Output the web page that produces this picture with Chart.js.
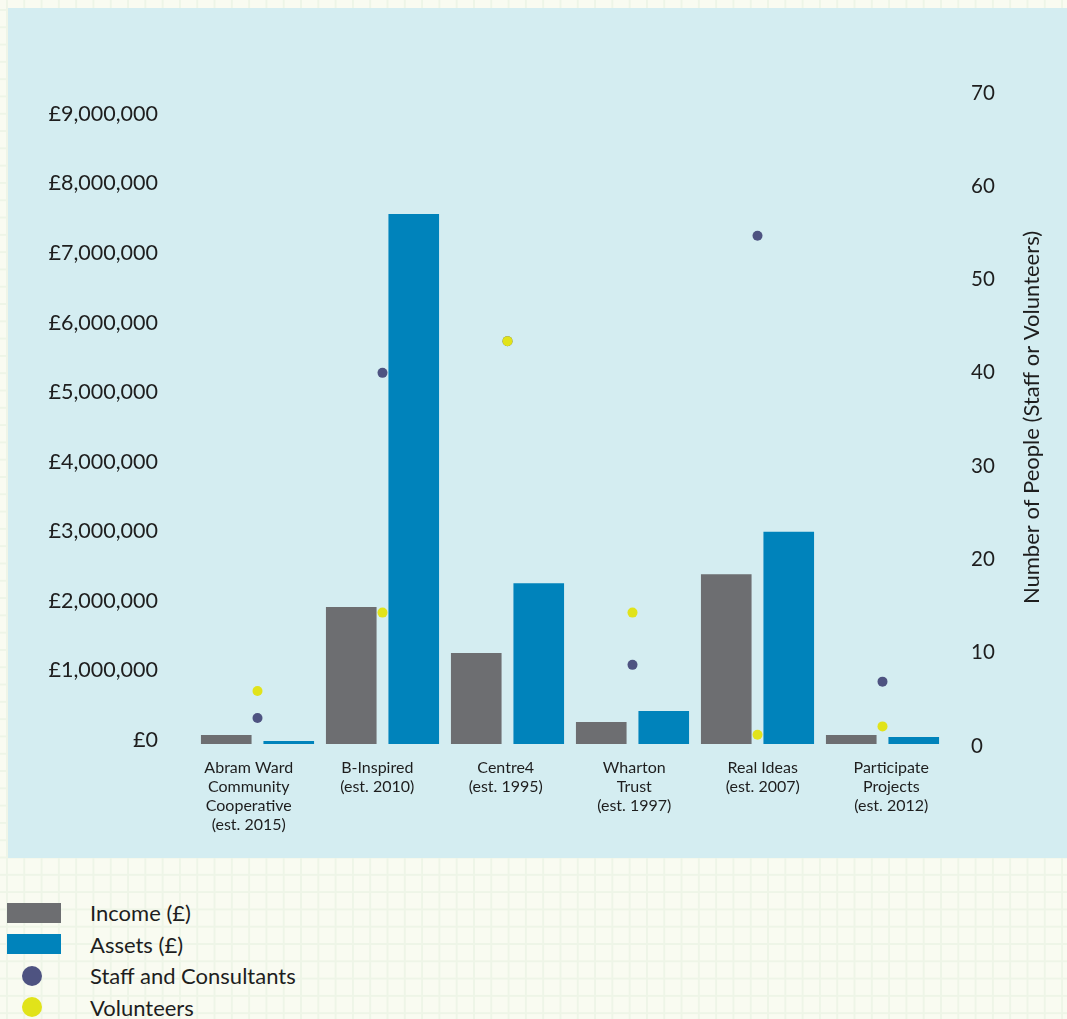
<!DOCTYPE html>
<html>
<head>
<meta charset="utf-8">
<script src="https://cdn.jsdelivr.net/npm/chart.js@4.4.1/dist/chart.umd.min.js"></script>
<style>
  html, body { margin: 0; padding: 0; }
  body {
    width: 1067px; height: 1019px; overflow: hidden; position: relative;
    background-color: #f9fbf1;
    background-image:
      linear-gradient(to right, #eef5e7 2px, transparent 2px),
      linear-gradient(to bottom, #eef5e7 2px, transparent 2px);
    background-size: 17.3px 17.3px;
    background-position: 6px 9px;
    font-family: 'Lato', sans-serif;
  }
  #chart { position: absolute; left: 8px; top: 8px; background: #d4edf1; }
  #legend { position: absolute; left: 0; top: 897px; }
  .row { position: relative; height: 31.5px; width: 400px; }
  .mk { position: absolute; }
  .lbl { position: absolute; left: 90px; top: 0; line-height: 31.5px; font-size: 22px; color: #1e1e1e; white-space: nowrap; }
</style>
</head>
<body>
<canvas id="chart" width="1059" height="850"></canvas>
<div id="legend"></div>
<script>
const CATEGORIES = [
  ['Abram Ward', 'Community', 'Cooperative', '(est. 2015)'],
  ['B-Inspired', '(est. 2010)'],
  ['Centre4', '(est. 1995)'],
  ['Wharton', 'Trust', '(est. 1997)'],
  ['Real Ideas', '(est. 2007)'],
  ['Participate', 'Projects', '(est. 2012)']
];
const INCOME = [130000, 1970000, 1310000, 316000, 2440000, 129000];
const ASSETS = [43000, 7620000, 2310000, 474000, 3050000, 100000];
const STAFF = [3, 40, 43.4, 8.7, 54.7, 6.9];
const VOLUNTEERS = [5.9, 14.3, 43.4, 14.3, 1.2, 2.1];
const MONEY_TICKS = [0, 1000000, 2000000, 3000000, 4000000, 5000000, 6000000, 7000000, 8000000, 9000000];
const PEOPLE_TICKS = [0, 10, 20, 30, 40, 50, 60, 70];
const SERIES_NAMES = ['Income (£)', 'Assets (£)', 'Staff and Consultants', 'Volunteers'];
const RIGHT_TITLE = 'Number of People (Staff or Volunteers)';

const TEXT = '#1e1e1e';
Chart.defaults.font.family = 'Lato';
Chart.defaults.color = TEXT;

// category labels are spread slightly wider than the category slots
const LABEL_SPREAD = 3.5;
const X_FONT = '16px Lato';
const X_LINE = 19;
const X_PAD = 12.5;

const decorPlugin = {
  id: 'decor',
  afterDraw(chart) {
    const { ctx, chartArea } = chart;
    const xs = chart.scales.x;
    ctx.save();
    ctx.fillStyle = TEXT;
    ctx.textAlign = 'center';
    ctx.textBaseline = 'middle';
    ctx.font = X_FONT;
    const n = xs.ticks.length;
    xs.ticks.forEach((t, i) => {
      const lines = [].concat(chart.data.labels[i]);
      const x = xs.getPixelForTick(i) + (i - (n - 1) / 2) * LABEL_SPREAD;
      lines.forEach((ln, k) => {
        ctx.fillText(ln, x, xs.top + X_PAD + X_LINE / 2 + k * X_LINE);
      });
    });
    ctx.font = '22px Lato';
    ctx.translate(1024, (chartArea.top + chartArea.bottom) / 2 - 2);
    ctx.rotate(-Math.PI / 2);
    ctx.fillText(RIGHT_TITLE, 0, 0);
    ctx.restore();
  }
};

const chart = new Chart(document.getElementById('chart'), {
  type: 'bar',
  data: {
    labels: CATEGORIES,
    datasets: [
      { label: SERIES_NAMES[0], data: INCOME, backgroundColor: '#6d6e71', yAxisID: 'y',
        categoryPercentage: 1.0, barPercentage: 0.81, order: 3 },
      { label: SERIES_NAMES[1], data: ASSETS, backgroundColor: '#0083bb', yAxisID: 'y',
        categoryPercentage: 1.0, barPercentage: 0.81, order: 3 },
      { type: 'line', label: SERIES_NAMES[2], data: STAFF, yAxisID: 'y1', showLine: false,
        pointRadius: 5, pointBorderWidth: 0, pointBackgroundColor: '#4e5381',
        backgroundColor: '#4e5381', borderColor: '#4e5381', order: 2 },
      { type: 'line', label: SERIES_NAMES[3], data: VOLUNTEERS, yAxisID: 'y1', showLine: false,
        pointRadius: 5, pointBorderWidth: 0, pointBackgroundColor: '#e1e31a',
        backgroundColor: '#e1e31a', borderColor: '#e1e31a', order: 1 }
    ]
  },
  options: {
    responsive: false,
    devicePixelRatio: 1,
    animation: false,
    events: [],
    layout: { padding: { top: 85, left: 0, right: 0, bottom: 0 } },
    plugins: { legend: { display: false }, tooltip: { enabled: false } },
    scales: {
      x: {
        grid: { display: false, drawTicks: false },
        border: { display: false },
        ticks: { display: false, autoSkip: false, maxRotation: 0 },
        afterFit: (s) => { s.height = 112; }
      },
      y: {
        position: 'left',
        min: -28750,
        max: 9358900,
        grid: { display: false, drawTicks: false },
        border: { display: false },
        afterBuildTicks: (s) => { s.ticks = MONEY_TICKS.map(v => ({ value: v })); },
        ticks: {
          font: { size: 21.5 }, padding: 37, labelOffset: -4, color: TEXT,
          callback: (v) => '£' + Number(v).toLocaleString('en-GB')
        },
        afterFit: (s) => { s.width = 187; }
      },
      y1: {
        position: 'right',
        min: 0,
        max: 70,
        grid: { display: false, drawTicks: false },
        border: { display: false },
        afterBuildTicks: (s) => { s.ticks = PEOPLE_TICKS.map(v => ({ value: v })); },
        ticks: { font: { size: 20.5 }, padding: 26, color: TEXT },
        afterFit: (s) => { s.width = 122; }
      }
    }
  },
  plugins: [decorPlugin]
});

// HTML legend built from the chart's datasets
const legend = document.getElementById('legend');
chart.data.datasets.forEach((ds) => {
  const row = document.createElement('div');
  row.className = 'row';
  const mk = document.createElement('div');
  mk.className = 'mk';
  if (ds.type === 'line') {
    Object.assign(mk.style, { left: '22px', top: '5.75px', width: '20px', height: '20px', borderRadius: '50%', background: ds.pointBackgroundColor });
  } else {
    Object.assign(mk.style, { left: '7px', top: '5.75px', width: '54px', height: '20px', background: ds.backgroundColor });
  }
  const lbl = document.createElement('div');
  lbl.className = 'lbl';
  lbl.textContent = ds.label;
  row.appendChild(mk);
  row.appendChild(lbl);
  legend.appendChild(row);
});
</script>
</body>
</html>
